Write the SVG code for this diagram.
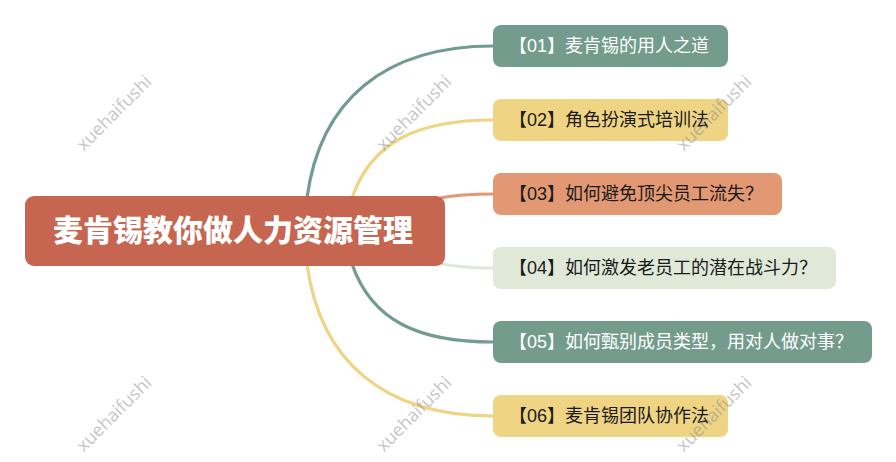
<svg xmlns="http://www.w3.org/2000/svg" width="896" height="462" viewBox="0 0 896 462">
<style>
text{font-family:"Liberation Sans","Noto Sans CJK SC",sans-serif;font-size:18px;fill:#1a1a1a}
.c{fill:none;stroke-width:3.2}
.w{fill:#fff}
.r{font-size:30px;font-weight:900;fill:#fff}
.m{font-family:"Open Sans",sans-serif;font-size:18px;fill:#8c8c8c;fill-opacity:.5}
</style>
<rect width="896" height="462" fill="#fff"/>
<g id="connectors">
<path class="c" stroke="#739c8c" d="M307 198C320 100 385 46 493 46"/>
<path class="c" stroke="#efd484" d="M352 198C372 140 420 120 493 120"/>
<path class="c" stroke="#e29873" d="M440 198C455 195 472 194 493 194"/>
<path class="c" stroke="#e0e8d8" d="M440 263C455 267 472 268 493 268"/>
<path class="c" stroke="#739c8c" d="M352 264C372 322 420 342 493 342"/>
<path class="c" stroke="#efd484" d="M307 264C320 362 385 416 493 416"/>
</g>
<g id="root"><rect x="25" y="196" width="420" height="70" rx="9" fill="#c66650"/><text class="r" x="53" y="241">麦肯锡教你做人力资源管理</text></g>
<g id="n1"><rect x="493" y="25" width="235" height="42" rx="8" fill="#739c8c"/><text class="w" x="509" y="52">【01】麦肯锡的用人之道</text></g>
<g id="n2"><rect x="493" y="99" width="235" height="42" rx="8" fill="#efd484"/><text x="509" y="126">【02】角色扮演式培训法</text></g>
<g id="n3"><rect x="493" y="173" width="289" height="42" rx="8" fill="#e29873"/><text x="509" y="200">【03】如何避免顶尖员工流失？</text></g>
<g id="n4"><rect x="493" y="247" width="343" height="42" rx="8" fill="#e0e8d8"/><text x="509" y="274">【04】如何激发老员工的潜在战斗力？</text></g>
<g id="n5"><rect x="493" y="321" width="379" height="42" rx="8" fill="#739c8c"/><text class="w" x="509" y="348">【05】如何甄别成员类型，用对人做对事？</text></g>
<g id="n6"><rect x="493" y="395" width="235" height="42" rx="8" fill="#efd484"/><text x="509" y="422">【06】麦肯锡团队协作法</text></g>
<g id="watermarks">
<text class="m" text-anchor="middle" transform="translate(114 113) rotate(-45)" y="6">xuehaifushi</text>
<text class="m" text-anchor="middle" transform="translate(414 113) rotate(-45)" y="6">xuehaifushi</text>
<text class="m" text-anchor="middle" transform="translate(714 113) rotate(-45)" y="6">xuehaifushi</text>
<text class="m" text-anchor="middle" transform="translate(114 414) rotate(-45)" y="6">xuehaifushi</text>
<text class="m" text-anchor="middle" transform="translate(414 414) rotate(-45)" y="6">xuehaifushi</text>
<text class="m" text-anchor="middle" transform="translate(714 414) rotate(-45)" y="6">xuehaifushi</text>
</g>
</svg>
